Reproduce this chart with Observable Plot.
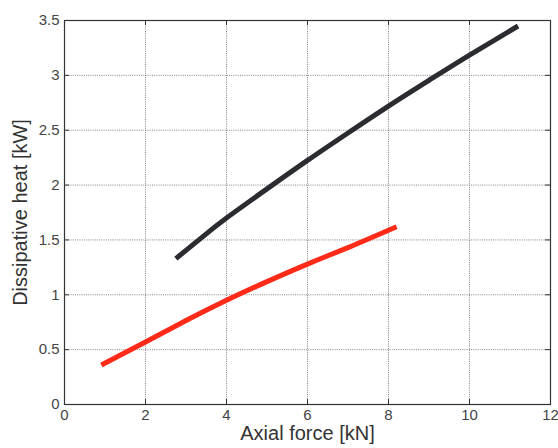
<!DOCTYPE html>
<html>
<head>
<meta charset="utf-8">
<script src="https://cdn.jsdelivr.net/npm/d3@7"></script>
<script src="https://cdn.jsdelivr.net/npm/@observablehq/plot@0.6"></script>
<style>
  html, body { margin: 0; padding: 0; background: #fff; }
  svg { font-family: "Liberation Sans", Arial, sans-serif; }
</style>
</head>
<body>
<div id="chart"></div>
<script>
// Data
const blackX = [2.75, 3.5, 4, 5, 6, 7, 8, 9, 10, 11.2];
const blackY = [1.33, 1.555, 1.70, 1.965, 2.225, 2.475, 2.72, 2.955, 3.185, 3.45];
const redX = [0.91, 2, 3, 4, 5, 6, 7, 8.2];
const redY = [0.36, 0.57, 0.765, 0.95, 1.12, 1.28, 1.43, 1.62];
const xTicks = [0, 2, 4, 6, 8, 10, 12];
const yTicks = [0, 0.5, 1, 1.5, 2, 2.5, 3, 3.5];

const black = blackX.map((x, i) => ({x, y: blackY[i]}));
const red = redX.map((x, i) => ({x, y: redY[i]}));

const W = 558, H = 448;
const mT = 20, mB = 44, mL = 64, mR = 8;
const innerH = H - mT - mB;
const innerW = W - mL - mR;
const tk = 5;

const chart = Plot.plot({
  width: W,
  height: H,
  marginTop: mT,
  marginBottom: mB,
  marginLeft: mL,
  marginRight: mR,
  style: {fontFamily: "Liberation Sans, Arial, sans-serif", fontSize: "15px", color: "#333", background: "#fff"},
  x: {domain: [0, 12], ticks: xTicks, label: null},
  y: {domain: [0, 3.5], ticks: yTicks, label: null},
  marks: [
    Plot.gridX(xTicks, {stroke: "#555", strokeOpacity: 0.9, strokeDasharray: "1,1.2", strokeWidth: 0.8}),
    Plot.gridY(yTicks, {stroke: "#555", strokeOpacity: 0.9, strokeDasharray: "1,1.2", strokeWidth: 0.8}),
    // inward ticks on all four sides
    Plot.tickX(xTicks, {x: d => d, insetTop: innerH - tk, stroke: "#333"}),
    Plot.tickX(xTicks, {x: d => d, insetBottom: innerH - tk, stroke: "#333"}),
    Plot.tickY(yTicks, {y: d => d, insetRight: innerW - tk, stroke: "#333"}),
    Plot.tickY(yTicks, {y: d => d, insetLeft: innerW - tk, stroke: "#333"}),
    Plot.axisX(xTicks, {tickSize: 0, tickPadding: 5, fontSize: 15, fill: "#444", tickFormat: d => String(d)}),
    Plot.axisY(yTicks, {tickSize: 0, tickPadding: 5, fontSize: 15, fill: "#444", tickFormat: d => String(d)}),
    Plot.frame({stroke: "#333", strokeWidth: 1.2}),
    Plot.line(black, {x: "x", y: "y", stroke: "#2a2c31", strokeWidth: 5, curve: "natural", strokeLinecap: "butt"}),
    Plot.line(red, {x: "x", y: "y", stroke: "#ff2a18", strokeWidth: 5, curve: "natural", strokeLinecap: "butt"}),
    Plot.text(["Axial force [kN]"], {frameAnchor: "bottom", dy: 35, fontSize: 20, fill: "#333", text: d => d}),
    Plot.text(["Dissipative heat [kW]"], {frameAnchor: "left", textAnchor: "middle", dx: -44, rotate: -90, fontSize: 20, fill: "#333", text: d => d})
  ]
});
document.getElementById("chart").appendChild(chart);
</script>
</body>
</html>
